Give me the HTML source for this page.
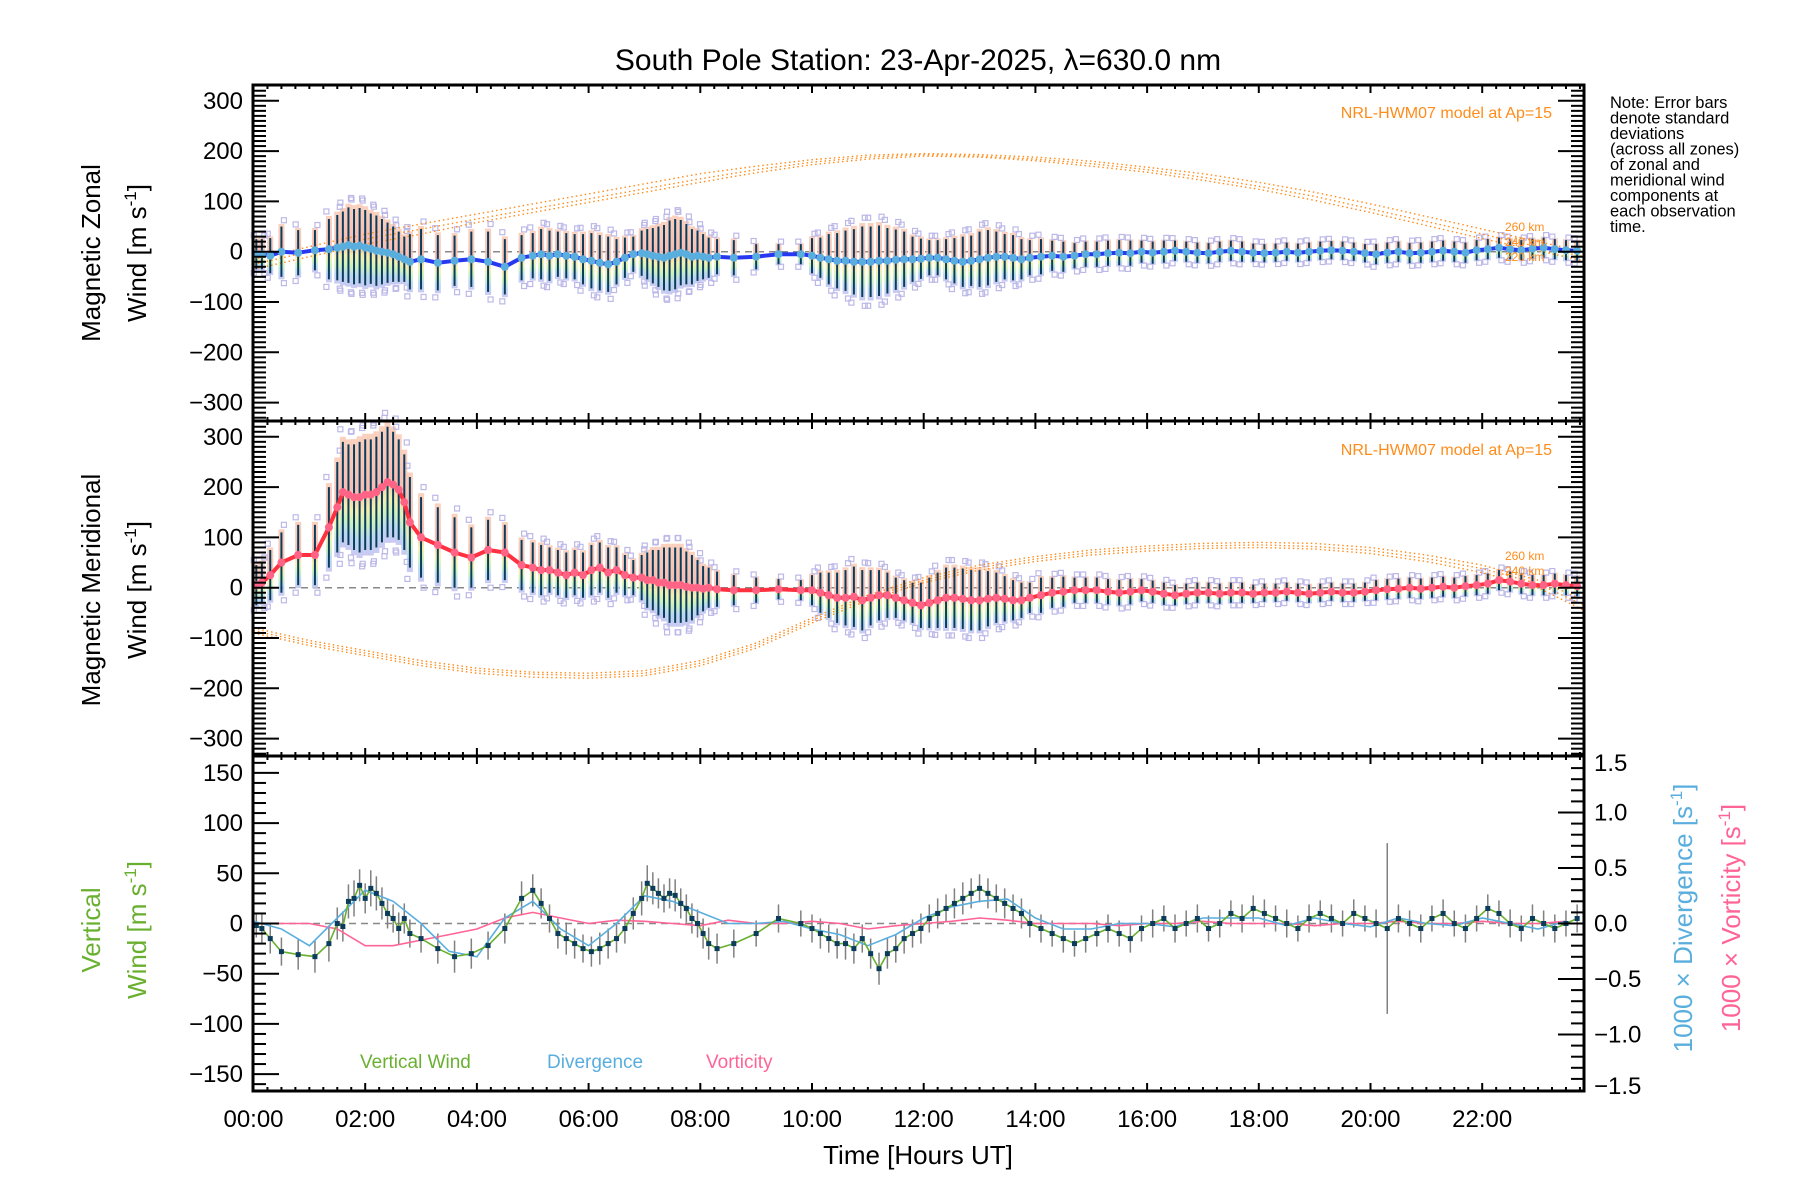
<!DOCTYPE html>
<html><head><meta charset="utf-8"><style>
html,body{margin:0;padding:0;background:#fff;}
svg{display:block;font-family:"Liberation Sans",sans-serif;}
</style></head><body>
<svg id="chart" width="1800" height="1200" viewBox="0 0 1800 1200" xmlns="http://www.w3.org/2000/svg">
<defs>
<linearGradient id="zoneGrad" x1="0" y1="0" x2="0" y2="1">
<stop offset="0" stop-color="#f9c9b4"/><stop offset="0.45" stop-color="#f7b4a6"/><stop offset="0.62" stop-color="#f4eea2"/><stop offset="0.74" stop-color="#c4f0b4"/><stop offset="0.86" stop-color="#b0d2f2"/><stop offset="1" stop-color="#c2c0f0"/>
</linearGradient>
</defs>
<text x="918" y="70" font-size="30" text-anchor="middle">South Pole Station: 23-Apr-2025, λ=630.0 nm</text>
<g id="layer"></g>
<g font-size="16.5" fill="#000">
<text x="1610" y="108">Note: Error bars</text><text x="1610" y="123.5">denote standard</text><text x="1610" y="139">deviations</text><text x="1610" y="154.5">(across all zones)</text><text x="1610" y="170">of zonal and</text><text x="1610" y="185.5">meridional wind</text><text x="1610" y="201">components at</text><text x="1610" y="216.5">each observation</text><text x="1610" y="232">time.</text>
</g>
<text transform="translate(100,253) rotate(-90)" font-size="26" text-anchor="middle">Magnetic Zonal</text>
<text transform="translate(146,253) rotate(-90)" font-size="26" text-anchor="middle">Wind [m s<tspan dy="-10" font-size="17">-1</tspan><tspan dy="10">]</tspan></text>
<text transform="translate(100,590) rotate(-90)" font-size="26" text-anchor="middle">Magnetic Meridional</text>
<text transform="translate(146,590) rotate(-90)" font-size="26" text-anchor="middle">Wind [m s<tspan dy="-10" font-size="17">-1</tspan><tspan dy="10">]</tspan></text>
<text transform="translate(100,930) rotate(-90)" font-size="26" fill="#6ab030" text-anchor="middle">Vertical</text>
<text transform="translate(146,930) rotate(-90)" font-size="26" fill="#6ab030" text-anchor="middle">Wind [m s<tspan dy="-10" font-size="17">-1</tspan><tspan dy="10">]</tspan></text>
<text transform="translate(1692,918) rotate(-90)" font-size="26" fill="#5aaede" text-anchor="middle">1000 × Divergence [s<tspan dy="-10" font-size="17">-1</tspan><tspan dy="10">]</tspan></text>
<text transform="translate(1740,918) rotate(-90)" font-size="26" fill="#ff6496" text-anchor="middle">1000 × Vorticity [s<tspan dy="-10" font-size="17">-1</tspan><tspan dy="10">]</tspan></text>
<text x="918" y="1164" font-size="26" text-anchor="middle">Time [Hours UT]</text>
<text x="360" y="1068" font-size="19" fill="#6ab030">Vertical Wind</text>
<text x="547" y="1068" font-size="19" fill="#5aaede">Divergence</text>
<text x="706" y="1068" font-size="19" fill="#ff6496">Vorticity</text>
<text x="1552" y="118" font-size="16" fill="#ff8c1a" text-anchor="end">NRL-HWM07 model at Ap=15</text>
<text x="1552" y="455" font-size="16" fill="#ff8c1a" text-anchor="end">NRL-HWM07 model at Ap=15</text>
<g font-size="12" fill="#ff8c1a">
<text x="1505" y="231">260 km</text>
<text x="1505" y="246">240 km</text>
<text x="1505" y="261">220 km</text>
<text x="1505" y="560">260 km</text>
<text x="1505" y="575">240 km</text>
</g>
</svg>
<script>
// ---- data ----
const obsTimes=[0.05,0.15,0.3,0.5,0.8,1.1,
1.35,1.5,1.6,1.7,1.8,1.9,2.0,2.1,2.2,2.3,2.4,2.5,2.6,2.7,2.8,
3.0,3.3,3.6,3.9,4.2,4.5,4.8,
5.0,5.15,5.3,5.45,5.6,5.75,5.9,6.05,6.2,6.35,6.5,6.65,6.8,
6.95,7.05,7.15,7.25,7.35,7.45,7.55,7.65,7.75,7.85,7.95,8.05,8.15,8.3,
8.6,9.0,9.4,9.8,
10.0,10.15,10.3,10.45,10.6,10.75,10.9,11.05,11.2,11.35,11.5,11.65,11.8,11.95,12.1,12.25,12.4,12.55,12.7,12.85,13.0,13.15,13.3,13.45,13.6,13.75,13.9,
14.1,14.3,14.5,14.7,14.9,15.1,15.3,15.5,15.7,15.9,16.1,16.3,16.5,16.7,16.9,17.1,17.3,17.5,17.7,17.9,18.1,18.3,18.5,18.7,18.9,19.1,19.3,19.5,19.7,19.9,20.1,20.3,20.5,20.7,20.9,21.1,21.3,21.5,21.7,21.9,22.1,22.3,22.5,22.7,22.9,23.1,23.3,23.5,23.7];
const zonalMean=[-5,-5,-8,0,-2,3,
5,8,10,13,10,12,8,6,2,0,-2,-5,-10,-15,-20,
-15,-22,-18,-15,-20,-30,-12,
-8,-5,-8,-5,-8,-10,-15,-18,-22,-25,-20,-12,-5,
-3,-5,-8,-10,-12,-8,-5,-2,-5,-10,-8,-10,-12,-10,
-12,-10,-5,-5,
-8,-12,-15,-18,-18,-20,-20,-20,-18,-18,-16,-15,-15,-14,-12,-12,-15,-18,-20,-18,-15,-12,-10,-10,-12,-15,-12,
-10,-8,-10,-8,-5,-5,-3,-2,-3,0,-2,0,2,0,-2,-3,0,2,0,-2,-3,-2,0,-2,0,2,3,2,0,-3,-5,-2,0,-3,-2,0,2,0,-2,3,5,8,5,3,6,8,5,3,2];
const zonalStd=[30,30,35,50,45,40,
60,65,70,75,75,75,75,70,70,65,60,55,50,45,55,
60,55,50,55,60,55,45,
45,50,50,45,45,45,50,55,55,55,45,40,35,
45,50,55,60,65,70,70,65,60,55,50,45,40,35,
35,25,20,20,
35,40,50,55,60,65,70,70,70,65,60,55,45,40,35,35,40,45,50,50,55,55,50,45,45,40,35,
35,30,30,25,25,25,25,25,25,22,22,22,20,20,20,20,20,20,20,18,18,18,18,18,18,18,18,18,18,18,20,20,20,20,20,20,20,20,20,20,20,20,20,20,20,20,20,20,20];
const meridMean=[5,10,25,50,65,65,
120,160,190,185,180,180,185,185,190,200,210,205,195,170,130,
100,85,70,60,75,70,45,
40,35,35,30,25,30,25,35,40,30,35,25,20,
20,15,15,10,10,5,5,5,2,0,0,-2,0,-3,
-5,-5,-3,-5,
-5,-10,-15,-20,-20,-18,-25,-20,-15,-15,-20,-25,-30,-35,-30,-25,-20,-20,-22,-25,-25,-22,-20,-22,-25,-25,-20,
-15,-10,-8,-5,-5,-5,-8,-10,-8,-5,-8,-12,-15,-12,-10,-10,-12,-10,-10,-12,-10,-10,-8,-10,-12,-10,-8,-10,-10,-8,-5,-3,-2,0,-2,0,2,0,3,5,8,15,12,8,5,5,8,5,3];
const meridStd=[40,40,50,60,60,60,
80,90,100,100,105,110,110,110,110,110,110,105,100,95,90,
80,75,70,60,60,55,50,
50,50,45,45,45,45,45,50,50,50,45,40,35,
45,55,60,65,70,75,75,75,70,65,55,45,40,35,
30,25,20,20,
30,40,45,50,55,60,60,55,50,45,40,40,40,45,50,55,60,60,60,60,60,55,50,45,40,35,30,
35,30,30,25,25,25,25,25,25,22,22,22,20,20,20,20,20,20,20,18,18,18,18,18,18,18,18,18,18,18,20,20,20,20,20,20,20,20,20,20,20,20,20,20,20,20,20,20,20];
const vertWind=[-2,-5,-15,-28,-31,-33,
-20,0,-3,22,25,38,25,35,30,20,10,5,-5,5,-10,
-15,-25,-33,-30,-22,-5,25,
33,20,5,-10,-15,-20,-25,-28,-25,-20,-15,-5,10,
25,40,35,30,25,30,28,20,15,5,0,-10,-20,-25,
-20,-10,5,0,
-5,-10,-15,-20,-20,-25,-15,-30,-45,-30,-25,-15,-10,-5,5,10,15,20,25,30,35,30,25,20,15,10,0,
-5,-10,-15,-20,-15,-10,-5,-10,-15,-5,0,5,-5,0,5,-5,0,10,5,15,10,5,0,-5,5,10,5,0,10,5,0,-5,5,0,-5,5,10,0,-5,5,15,10,0,-5,5,0,-5,0,5];
const vertStd=[12,14,15,14,15,16,
18,16,15,17,18,16,15,18,17,16,15,14,16,15,14,
14,15,16,15,14,15,17,
16,15,14,15,16,15,14,15,16,15,14,15,16,
17,18,16,15,14,15,16,15,14,15,14,15,16,15,
14,13,14,13,
14,15,14,15,16,15,14,15,16,15,14,15,14,15,14,15,14,15,16,15,14,15,14,15,14,15,14,
14,13,14,13,14,13,14,13,14,13,14,13,14,13,14,13,14,13,14,13,14,13,14,13,14,13,14,13,14,13,14,85,14,13,14,13,14,13,14,13,14,13,14,13,14,13,14,13,14];
const modelHours=[0,1,2,3,4,5,6,7,8,9,10,11,12,13,14,15,16,17,18,19,20,21,22,23,24];
const zonalModel260=[-15,10,35,55,75,95,115,135,155,170,183,192,195,193,188,180,168,155,138,118,95,70,45,20,0];
const zonalModel240=[-25,0,25,45,65,85,105,125,145,163,178,188,193,190,184,175,163,148,130,110,85,60,35,10,-10];
const zonalModel220=[-35,-10,15,35,58,78,98,118,138,157,173,184,190,188,181,170,158,142,124,102,78,52,26,2,-18];
const meridModel260=[-80,-105,-125,-145,-160,-168,-170,-165,-145,-110,-60,-15,20,45,62,75,83,88,90,88,80,65,45,15,-25];
const meridModel240=[-85,-110,-130,-150,-165,-172,-175,-170,-150,-115,-65,-20,15,40,57,70,78,83,85,82,74,58,38,8,-35];
const meridModel220=[-90,-115,-135,-155,-170,-178,-180,-175,-155,-120,-70,-25,10,35,52,65,73,78,80,77,68,52,30,0,-45];
const dvTimes=[0,0.5,1,1.5,2,2.5,3,3.5,4,4.5,5,5.5,6,6.5,7,7.5,8,8.5,9,9.5,10,10.5,11,11.5,12,12.5,13,13.5,14,14.5,15,15.5,16,16.5,17,17.5,18,18.5,19,19.5,20,20.5,21,21.5,22,22.5,23,23.5];
const divergence=[0.02,-0.05,-0.2,0.05,0.3,0.2,0.0,-0.25,-0.3,0.05,0.2,-0.05,-0.2,0.0,0.25,0.2,0.1,0.0,0.0,0.02,-0.05,-0.1,-0.2,-0.1,0.05,0.15,0.2,0.22,0.05,-0.05,-0.05,0.0,0.0,-0.03,0.05,0.05,0.05,-0.02,0.05,0.0,-0.03,0.05,0.0,-0.02,0.05,0.0,-0.05,0.02];
const vorticity=[0.0,0.0,0.0,-0.05,-0.2,-0.2,-0.15,-0.1,-0.05,0.05,0.1,0.05,0.0,0.03,0.02,0.0,-0.02,0.03,0.0,0.0,0.02,0.0,-0.05,-0.02,0.0,0.02,0.05,0.03,0.0,0.0,0.0,-0.02,0.0,0.0,0.02,0.0,0.0,0.0,-0.02,0.0,0.0,0.02,0.0,0.0,0.02,0.0,0.0,0.02];
const xTickLabels=["00:00","02:00","04:00","06:00","08:00","10:00","12:00","14:00","16:00","18:00","20:00","22:00"];
const windTickValues=[-300,-200,-100,0,100,200,300];
const vertTickValues=[-150,-100,-50,0,50,100,150];
const rightTickLabels=["-1.5","-1.0","-0.5","0.0","0.5","1.0","1.5"];

// ---- axes ----
const X0=253.5,XPH=55.85,XL=253,XR=1584;
const P1={top:85,bot:421,zero:251.7,k:0.503};
const P2={top:421,bot:756,zero:587.7,k:0.503};
const P3={top:756,bot:1091,zero:923.5,k:1.004,kr:111};
const xS=h=>X0+h*XPH;
const yZ=v=>P1.zero-v*P1.k, yM=v=>P2.zero-v*P2.k, yV=v=>P3.zero-v*P3.k, yR=r=>P3.zero-r*P3.kr;
const NS="http://www.w3.org/2000/svg";
const layer=document.getElementById('layer');
function mk(tag,attrs,parent){const e=document.createElementNS(NS,tag);for(const k in attrs)e.setAttribute(k,attrs[k]);(parent||layer).appendChild(e);return e;}
function pathOf(xs,ys){return xs.map((x,i)=>(i?'L':'M')+x.toFixed(1)+' '+ys[i].toFixed(1)).join(' ');}

function windPanel(P,yf,mean,std,model,meanColor,dotColor,name){
  const g=mk('g',{});
  
  
  mk('line',{x1:XL,x2:XR,y1:yf(0),y2:yf(0),stroke:'#888','stroke-width':1.5,'stroke-dasharray':'7,5'},g);
  obsTimes.forEach((t,i)=>{
    const x=xS(t);
    const r=mk('rect',{x:x-3,y:yf(mean[i]+std[i]*1.1),width:6,height:std[i]*2.2*P.k,fill:'url(#zoneGrad)',opacity:0.85},g);
    
    
  });
  obsTimes.forEach((t,i)=>{
    const x=xS(t);
    const off=(i%2)?2.5:-2.5;
    [1.25,-1.25].forEach(f=>{
      const s=mk('rect',{x:x-2.5+off,y:yf(mean[i]+std[i]*f)-2.5,width:5,height:5,fill:'none',stroke:'#bcb8e8','stroke-width':1.2},g);
      
      
    });
  });
  model.forEach(arr=>{
    const p=mk('path',{d:pathOf(modelHours.map(h=>xS(Math.min(h,23.82))),arr.map(yf)),fill:'none',stroke:'#ff8c1a','stroke-width':1.4,'stroke-dasharray':'1.5,3'},g);
    
    
  });
  obsTimes.forEach((t,i)=>{
    const x=xS(t);
    const l=mk('line',{x1:x,x2:x,y1:yf(mean[i]+std[i]),y2:yf(mean[i]-std[i]),stroke:'#0c3c5c','stroke-width':2},g);
    
    
  });
  const ml=mk('path',{d:pathOf(obsTimes.map(xS),mean.map(yf)),fill:'none',stroke:meanColor,'stroke-width':4,'stroke-linejoin':'round'},g);
  
  
  obsTimes.forEach((t,i)=>{
    const c=mk('circle',{cx:xS(t),cy:yf(mean[i]),r:4,fill:dotColor},g);
    
    
  });
}
windPanel(P1,yZ,zonalMean,zonalStd,[zonalModel260,zonalModel240,zonalModel220],'#2838f0','#5aaede','zonal');
windPanel(P2,yM,meridMean,meridStd,[meridModel260,meridModel240,meridModel220],'#ff3040','#ff6486','meridional');

// panel 3
(function(){
  const g=mk('g',{});
  
  
  mk('line',{x1:XL,x2:XR,y1:yV(0),y2:yV(0),stroke:'#888','stroke-width':1.5,'stroke-dasharray':'7,5'},g);
  obsTimes.forEach((t,i)=>{
    const l=mk('line',{x1:xS(t),x2:xS(t),y1:yV(vertWind[i]+vertStd[i]),y2:yV(vertWind[i]-vertStd[i]),stroke:'#808080','stroke-width':1.5},g);
    
    
  });
  const vo=mk('path',{d:pathOf(dvTimes.map(xS),vorticity.map(yR)),fill:'none',stroke:'#ff6496','stroke-width':1.6},g);
  
  
  const dv=mk('path',{d:pathOf(dvTimes.map(xS),divergence.map(yR)),fill:'none',stroke:'#5aaede','stroke-width':1.6},g);
  
  
  const vw=mk('path',{d:pathOf(obsTimes.map(xS),vertWind.map(yV)),fill:'none',stroke:'#6ab030','stroke-width':1.6},g);
  
  
  obsTimes.forEach((t,i)=>{
    const s=mk('rect',{x:xS(t)-2.5,y:yV(vertWind[i])-2.5,width:5,height:5,fill:'#0c3c5c'},g);
    
    
  });
})();

// axes frames & ticks
const ax=mk('g',{stroke:'#000'});


[P1,P2,P3].forEach(P=>{
  mk('rect',{x:XL,y:P.top,width:XR-XL,height:P.bot-P.top,fill:'none','stroke-width':3},ax);
  for(let q=0;q<=95;q++){const h=q*0.25;const x=xS(h);if(x>XR)break;const L=(q%8===0)?8:4;
    mk('line',{x1:x,x2:x,y1:P.top,y2:P.top+L,'stroke-width':2},ax);
    mk('line',{x1:x,x2:x,y1:P.bot,y2:P.bot-L,'stroke-width':2},ax);}
});
[[P1,yZ],[P2,yM]].forEach(([P,yf])=>{
  for(let v=-330;v<=330;v+=10){const y=yf(v);if(y<P.top+2||y>P.bot-2)continue;const L=(v%100===0)?26:13;
    mk('line',{x1:XL,x2:XL+L,y1:y,y2:y,'stroke-width':2},ax);
    mk('line',{x1:XR,x2:XR-L,y1:y,y2:y,'stroke-width':2},ax);}
});
for(let v=-160;v<=160;v+=10){const y=yV(v);if(y<P3.top+2||y>P3.bot-2)continue;mk('line',{x1:XL,x2:XL+(v%50===0?26:13),y1:y,y2:y,'stroke-width':2},ax);}
for(let r=-15;r<=15;r++){const y=yR(r/10);if(y<P3.top+2||y>P3.bot-2)continue;mk('line',{x1:XR,x2:XR-(r%5===0?26:13),y1:y,y2:y,'stroke-width':2},ax);}

// tick labels
const tl=mk('g',{'font-size':24,fill:'#000'});


[yZ,yM].forEach(yf=>windTickValues.forEach(v=>{
  const t=mk('text',{x:243,y:yf(v)+8,'text-anchor':'end'},tl);t.textContent=(v<0?'−':'')+Math.abs(v);
  
  
}));
vertTickValues.forEach(v=>{
  const t=mk('text',{x:243,y:yV(v)+8,'text-anchor':'end'},tl);t.textContent=(v<0?'−':'')+Math.abs(v);
  
  
});
rightTickLabels.forEach(s=>{
  const r=parseFloat(s);let y=yR(r)+8;if(r===1.5)y+=6;if(r===-1.5)y-=4;
  const t=mk('text',{x:1594,y:y},tl);t.textContent=s.replace('-','−');
  
  
});
xTickLabels.forEach((s,i)=>{
  const t=mk('text',{x:xS(i*2),y:1127,'text-anchor':'middle'},tl);t.textContent=s;
  
  
});
</script>
</body></html>
